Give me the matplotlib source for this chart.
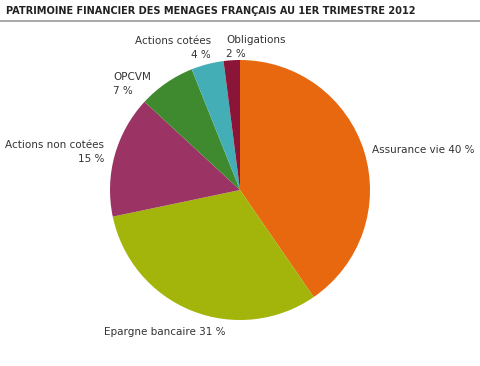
import matplotlib.pyplot as plt

labels = ["Assurance vie 40 %", "Epargne bancaire 31 %", "Actions non cotées\n15 %",
          "OPCVM\n7 %", "Actions cotées\n4 %", "Obligations\n2 %"]
values = [40, 31, 15, 7, 4, 2]
colors = ["#E8680F", "#A3B40A", "#9B3465", "#3F8A2E", "#44AEB6", "#8A1538"]

# label anchor (data coords, pie radius 1) and alignment
label_pos = [(1.015, 0.31, "left"), (-1.046, -1.09, "left"), (-1.046, 0.29, "right"),
             (-0.977, 0.815, "left"), (-0.223, 1.09, "right"), (-0.108, 1.10, "left")]

W, H = 480, 366
fig = plt.figure(figsize=(W / 100, H / 100), dpi=100)

fig.text(6 / W, 1 - 11 / H, "PATRIMOINE FINANCIER DES MENAGES FRANÇAIS AU 1ER TRIMESTRE 2012",
         fontsize=7.8, fontweight="bold", color="#222222", va="center", ha="left",
         fontstretch="condensed")
fig.add_artist(plt.Line2D([0, 1], [1 - 21 / H, 1 - 21 / H], color="#999999", lw=1.2))

cx, cy, r = 240, 190, 130
ax = fig.add_axes([(cx - r) / W, 1 - (cy + r) / H, 2 * r / W, 2 * r / H])
ax.pie(values, colors=colors, startangle=90, counterclock=False,
       wedgeprops=dict(linewidth=0))
ax.set_xlim(-1, 1)
ax.set_ylim(-1, 1)
ax.set_aspect("equal")

for lab, (x, y, ha) in zip(labels, label_pos):
    ax.text(x, y, lab, ha=ha, va="center", fontsize=7.5, color="#333333",
            multialignment=ha, linespacing=1.45, clip_on=False)

fig.savefig("out.png", dpi=100)
